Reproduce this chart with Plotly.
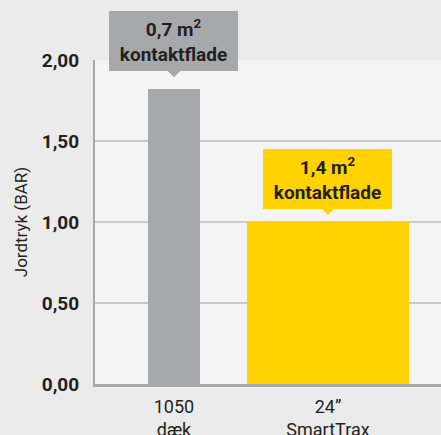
import plotly.graph_objects as go

# ---- data ----
categories = ["1050<br>dæk", "24”<br>SmartTrax"]
pressure_bar = [1.82, 1.00]
callout_texts = ["0,7 m<sup>2</sup><br>kontaktflade", "1,4 m<sup>2</sup><br>kontaktflade"]
y_ticks = [0.0, 0.5, 1.0, 1.5, 2.0]
y_title = "Jordtryk (BAR)"

# ---- styles ----
bar_colors = ["#a7a8ab", "#ffd200"]
bar_widths = [0.338, 1.052]
callout_gap = [18, 13]
TXT = "#231f20"
FONT = "Roboto"

fig = go.Figure()
fig.add_trace(go.Bar(
    x=list(range(len(categories))), y=pressure_bar,
    width=bar_widths, marker=dict(color=bar_colors, line=dict(width=0)),
    hoverinfo="skip",
))

for i, (v, t) in enumerate(zip(pressure_bar, callout_texts)):
    fig.add_annotation(
        x=i, y=v, xref="x", yref="y", xanchor="center", yanchor="bottom",
        yshift=callout_gap[i], text="<b>" + t + "</b>", showarrow=False,
        width=129, height=60, borderpad=0, bgcolor=bar_colors[i],
        bordercolor=bar_colors[i], borderwidth=0,
        font=dict(family=FONT, size=19, color=TXT),
    )
    g = callout_gap[i]
    fig.add_shape(
        type="path", xref="x", yref="y", xsizemode="pixel", ysizemode="pixel",
        xanchor=i, yanchor=v,
        path=f"M -7,{g + 1} L 7,{g + 1} L 0,{g - 6} Z",
        fillcolor=bar_colors[i], line=dict(width=0),
    )

fig.update_layout(
    width=441, height=435,
    margin=dict(l=95, r=0, t=60, b=51, autoexpand=False),
    paper_bgcolor="#ebebeb", plot_bgcolor="#f4f4f4",
    separators=", ",
    showlegend=False,
    bargap=0,
    font=dict(family=FONT, color=TXT),
)
fig.update_xaxes(
    tickmode="array", tickvals=list(range(len(categories))), ticktext=categories,
    range=[-0.513, 1.734], showgrid=False, zeroline=False, automargin=False,
    showline=True, linecolor="#a8a9ac", linewidth=3,
    tickfont=dict(family=FONT, size=18, color=TXT),
    ticks="outside", ticklen=4, tickcolor="rgba(0,0,0,0)",
)
fig.update_yaxes(
    range=[0, 2.0], tickvals=y_ticks, tickformat=".2f", automargin=False,
    showgrid=True, gridcolor="#c8c9cb", gridwidth=1.5, zeroline=False,
    showline=True, linecolor="#a8a9ac", linewidth=2,
    tickfont=dict(family=FONT, size=19, color=TXT, weight="bold"),
    ticks="outside", ticklen=10, tickcolor="rgba(0,0,0,0)",
    title=dict(text=y_title, font=dict(family=FONT, size=17, color=TXT), standoff=10),
)

fig.write_html(
    "out.html",
    config={"displayModeBar": False},
    post_script="document.body.style.margin='0px';document.body.style.overflow='hidden';",
)
